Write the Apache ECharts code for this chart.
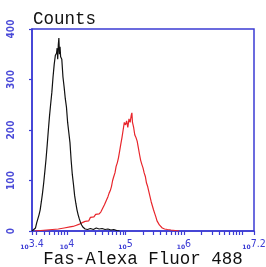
<!DOCTYPE html>
<html>
<head>
<meta charset="utf-8">
<script src="https://cdn.jsdelivr.net/npm/echarts@6/dist/echarts.min.js"></script>
<style>
  html, body { margin: 0; padding: 0; background: #fff; }
  #chart { width: 266px; height: 267px; }
</style>
</head>
<body>
<div id="chart"></div>
<script>
// x values are log10 of fluorescence intensity
var isotypeLogX = [3.40, 3.43, 3.46, 3.48, 3.50, 3.52, 3.54, 3.56, 3.58, 3.60, 3.62, 3.64, 3.66, 3.68, 3.70, 3.72, 3.74, 3.76, 3.78, 3.80, 3.82, 3.83, 3.84, 3.85, 3.86, 3.87, 3.88, 3.89, 3.91, 3.93, 3.95, 3.97, 3.99, 4.01, 4.03, 4.05, 4.07, 4.09, 4.11, 4.13, 4.15, 4.17, 4.19, 4.21, 4.23, 4.25, 4.27, 4.29, 4.31, 4.35, 4.40, 4.45, 4.50, 4.55, 4.60, 4.65, 4.70, 4.75, 4.80, 4.85, 4.90];
var isotypeCounts = [0, 1, 6, 16, 24, 32, 42, 58, 75, 95, 118, 142, 170, 200, 228, 252, 275, 305, 330, 348, 352, 362, 340, 368, 382, 350, 365, 345, 340, 305, 285, 262, 245, 215, 195, 175, 140, 112, 92, 70, 55, 42, 32, 24, 17, 12, 8, 5, 4, 3, 5, 3, 6, 4, 5, 3, 4, 2, 3, 1, 0];

var fasLogX = [3.45, 3.55, 3.65, 3.75, 3.85, 3.95, 4.05, 4.10, 4.15, 4.20, 4.25, 4.28, 4.31, 4.34, 4.37, 4.40, 4.43, 4.46, 4.49, 4.52, 4.55, 4.58, 4.61, 4.64, 4.67, 4.70, 4.72, 4.74, 4.76, 4.78, 4.80, 4.82, 4.84, 4.86, 4.88, 4.90, 4.92, 4.94, 4.96, 4.98, 5.00, 5.02, 5.04, 5.06, 5.08, 5.10, 5.11, 5.12, 5.14, 5.16, 5.18, 5.20, 5.22, 5.24, 5.26, 5.28, 5.30, 5.32, 5.34, 5.36, 5.38, 5.40, 5.42, 5.44, 5.46, 5.48, 5.50, 5.52, 5.54, 5.56, 5.58, 5.60, 5.63, 5.67, 5.72, 5.78, 5.85, 5.92];
var fasCounts = [0, 1, 2, 3, 4, 6, 8, 9, 11, 13, 16, 15, 19, 22, 20, 27, 30, 28, 33, 30, 34, 38, 45, 52, 60, 68, 75, 80, 88, 100, 108, 115, 128, 135, 145, 158, 172, 185, 200, 215, 210, 218, 205, 222, 215, 230, 234, 215, 205, 190, 185, 178, 165, 152, 140, 132, 125, 115, 108, 95, 88, 78, 68, 58, 50, 42, 35, 28, 20, 16, 12, 9, 6, 4, 3, 2, 1, 0];

var xLabelExps = [3.4, 4, 5, 6, 7.2];
var yTicks = [0, 100, 200, 300, 400];

var blue = '#3b3bd4';
var monoFont = 'Liberation Mono';

function zip(xs, ys) {
  return xs.map(function (x, i) { return [x, ys[i]]; });
}

// minor ticks at 2..9 x 10^n, plus the axis ends
function logTicks() {
  var t = [3.4, 7.2];
  for (var n = 3; n <= 7; n++) {
    for (var k = 1; k <= 9; k++) {
      var v = Math.log10(k * Math.pow(10, n));
      if (v > 3.4 && v < 7.2) t.push(v);
    }
  }
  return t;
}

var chart = echarts.init(document.getElementById('chart'));
var option = {
  animation: false,
  title: {
    text: 'Counts',
    left: 28,
    top: 5,
    textStyle: { fontFamily: monoFont, fontSize: 17.5, fontWeight: 'normal', color: '#111' }
  },
  grid: {
    left: 32, right: 12, top: 29, bottom: 36,
    outerBoundsMode: 'none',
    containLabel: false,
    show: true, borderColor: blue, borderWidth: 1.5, backgroundColor: 'transparent'
  },
  xAxis: {
    type: 'value',
    min: 3.4,
    max: 7.2,
    name: 'Fas-Alexa Fluor 488',
    nameLocation: 'middle',
    nameGap: 19,
    nameMoveOverlap: false,
    nameTextStyle: { fontFamily: monoFont, fontSize: 17.5, color: '#111', verticalAlign: 'top' },
    splitLine: { show: false },
    axisLine: { lineStyle: { color: blue, width: 1.5 } },
    axisTick: { customValues: logTicks(), length: 4, lineStyle: { color: blue, width: 1.2 } },
    axisLabel: {
      customValues: xLabelExps,
      margin: 8,
      formatter: function (v) { return '{b|10}{e|' + v + '}'; },
      rich: {
        b: { fontSize: 6, fontWeight: 'bold', color: blue, fontFamily: 'DejaVu Sans', verticalAlign: 'bottom', padding: [4, 0, 0, 0] },
        e: { fontSize: 10.5, color: blue, fontFamily: 'DejaVu Sans Condensed, DejaVu Sans' }
      }
    }
  },
  yAxis: {
    type: 'value',
    min: 0,
    max: 400,
    interval: 100,
    splitLine: { show: false },
    axisLine: { show: true, lineStyle: { color: blue, width: 1.5 } },
    axisTick: { show: true, length: 3, lineStyle: { color: blue, width: 1.2 } },
    axisLabel: {
      rotate: 90,
      margin: 16,
      align: 'center',
      verticalAlign: 'bottom',
      color: '#4a4ad8',
      fontSize: 10,
      fontWeight: 'bold',
      fontFamily: 'DejaVu Sans Condensed, DejaVu Sans',
      formatter: function (v) { return yTicks.indexOf(v) >= 0 ? String(v) : ''; }
    }
  },
  series: [
    {
      type: 'line',
      data: zip(isotypeLogX, isotypeCounts),
      showSymbol: false,
      lineStyle: { color: '#111', width: 1.2 },
      z: 3
    },
    {
      type: 'line',
      data: zip(fasLogX, fasCounts),
      showSymbol: false,
      lineStyle: { color: '#e8262c', width: 1.2 },
      z: 2
    }
  ]
};
chart.setOption(option);
</script>
</body>
</html>
